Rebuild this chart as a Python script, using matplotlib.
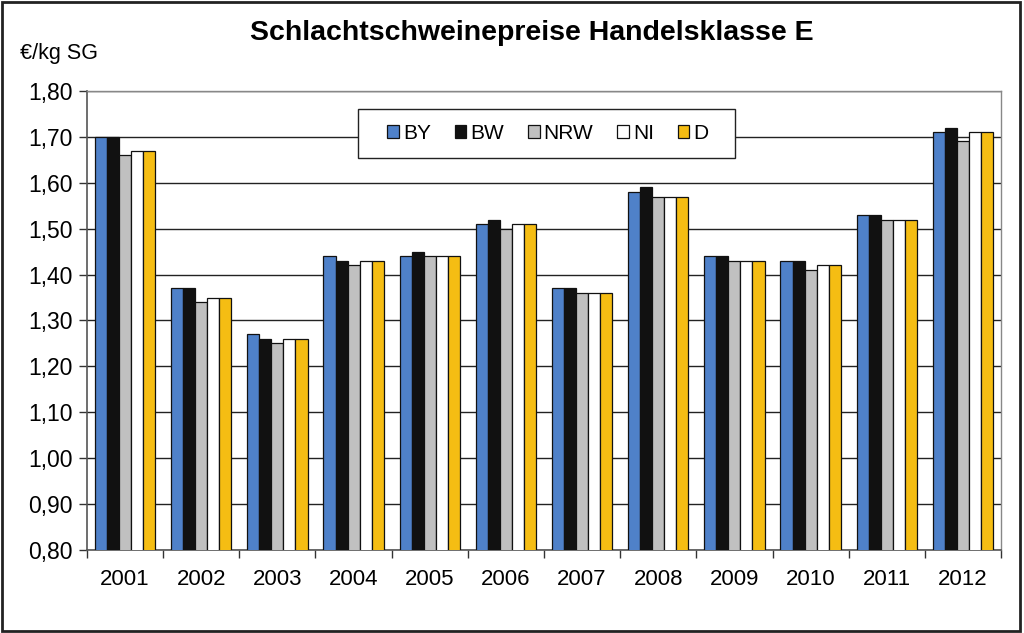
import matplotlib
matplotlib.use("Agg")
import matplotlib.pyplot as plt
import numpy as np
from matplotlib.ticker import FuncFormatter, MultipleLocator
from matplotlib.patches import Rectangle

years = ["2001", "2002", "2003", "2004", "2005", "2006", "2007", "2008", "2009", "2010", "2011", "2012"]
BY  = [1.70, 1.37, 1.27, 1.44, 1.44, 1.51, 1.37, 1.58, 1.44, 1.43, 1.53, 1.71]
BW  = [1.70, 1.37, 1.26, 1.43, 1.45, 1.52, 1.37, 1.59, 1.44, 1.43, 1.53, 1.72]
NRW = [1.66, 1.34, 1.25, 1.42, 1.44, 1.50, 1.36, 1.57, 1.43, 1.41, 1.52, 1.69]
NI  = [1.67, 1.35, 1.26, 1.43, 1.44, 1.51, 1.36, 1.57, 1.43, 1.42, 1.52, 1.71]
D   = [1.67, 1.35, 1.26, 1.43, 1.44, 1.51, 1.36, 1.57, 1.43, 1.42, 1.52, 1.71]
series_names = ["BY", "BW", "NRW", "NI", "D"]
series_vals = [BY, BW, NRW, NI, D]
colors = ["#4f81c9", "#111111", "#c0c0c0", "#ffffff", "#f5bd13"]

plt.rcParams['font.family'] = ['Liberation Sans', 'DejaVu Sans']

fig = plt.figure(figsize=(10.24, 6.33), dpi=100)
ax = fig.add_axes([87/1024, 1-550/633, (1001-87)/1024, (550-91)/633])

x = np.arange(len(years))
bw = 0.158
for i, (name, vals, c) in enumerate(zip(series_names, series_vals, colors)):
    ax.bar(x + (i - 2) * bw, vals, width=bw, color=c, edgecolor="#111111",
           linewidth=0.9, label=name, zorder=3)

ax.set_ylim(0.80, 1.80)
ax.set_xlim(-0.5, len(years) - 0.5)
ax.yaxis.set_major_locator(MultipleLocator(0.1))
ax.yaxis.set_major_formatter(FuncFormatter(lambda v, p: f"{v:.2f}".replace(".", ",")))
ax.grid(axis="y", color="#222222", linewidth=1.0, zorder=0)
ax.set_xticks(x)
ax.set_xticklabels(years)
ax.set_xticks(np.arange(-0.5, len(years)), minor=True)
ax.tick_params(axis="x", which="major", length=0, pad=14, labelsize=16)
ax.tick_params(axis="x", which="minor", length=6, width=1, color="#333333")
ax.tick_params(axis="y", length=6, width=1, color="#333333", labelsize=16.5, pad=4)
for s in ["left", "bottom"]:
    ax.spines[s].set_color("#555555")
    ax.spines[s].set_linewidth(1.2)
for s in ["top", "right"]:
    ax.spines[s].set_color("#888888")
    ax.spines[s].set_linewidth(1.0)

# legend frame box
ax.add_patch(Rectangle((358/1024, 1-158/633), (735-358)/1024, (158-109)/633,
                       transform=fig.transFigure, facecolor="white", edgecolor="#222222",
                       linewidth=1.0, zorder=4, clip_on=False))
leg = ax.legend(loc="center", bbox_to_anchor=(548/1024, 1-133.5/633),
                bbox_transform=fig.transFigure, ncol=5, fontsize=15,
                frameon=False, handlelength=0.55,
                handleheight=0.55, handletextpad=0.2, columnspacing=1.15,
                borderpad=0, borderaxespad=0)
leg.set_zorder(5)

fig.text(532/1024, 1-33/633, "Schlachtschweinepreise Handelsklasse E", ha="center", va="center",
         fontsize=20.5, fontweight="bold")
fig.text(20/1024, 1-53/633, "€/kg SG", ha="left", va="center", fontsize=15.5)

fig.patches.append(Rectangle((0.002, 0.003), 0.994, 0.994, transform=fig.transFigure,
                             fill=False, edgecolor="#222222", linewidth=2.0))

fig.savefig("out.png", dpi=100)
